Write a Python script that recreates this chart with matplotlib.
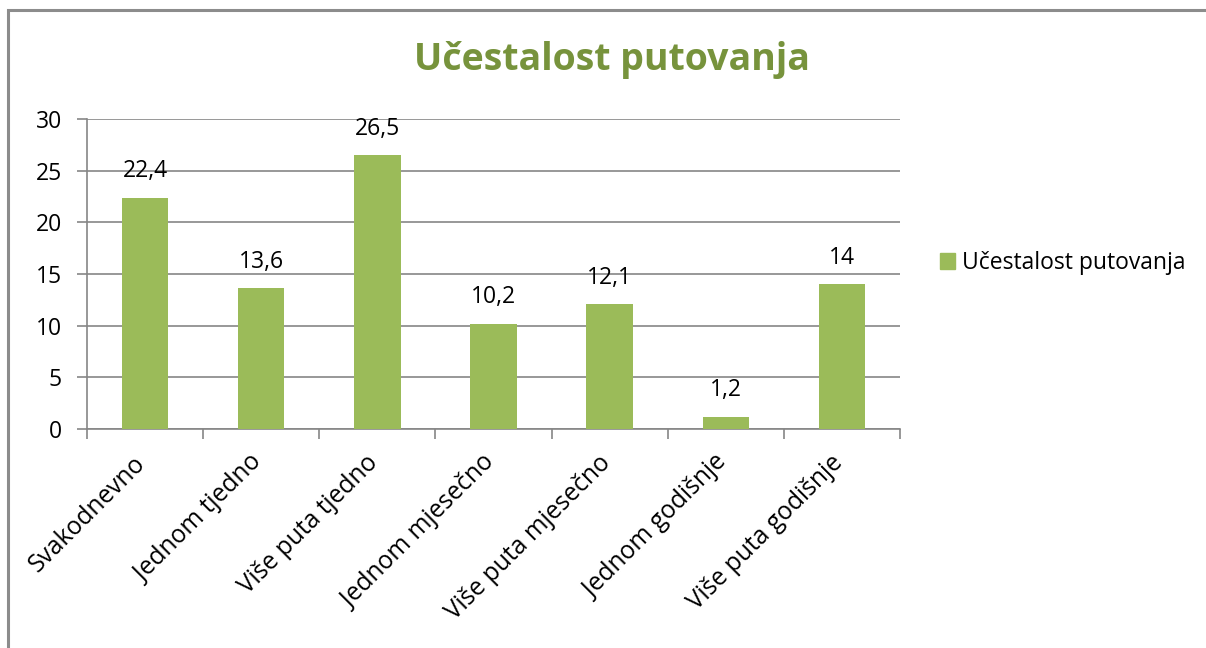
import matplotlib
matplotlib.use("Agg")
import matplotlib.pyplot as plt
from matplotlib.patches import Rectangle, Patch
import matplotlib.transforms as mtransforms
import numpy as np

categories = ["Svakodnevno", "Jednom tjedno", "Više puta tjedno", "Jednom mjesečno",
              "Više puta mjesečno", "Jednom godišnje", "Više puta godišnje"]
values = [22.4, 13.6, 26.5, 10.2, 12.1, 1.2, 14]
value_labels = ["22,4", "13,6", "26,5", "10,2", "12,1", "1,2", "14"]
yticks = [0, 5, 10, 15, 20, 25, 30]
series_name = "Učestalost putovanja"
title = "Učestalost putovanja"

bar_color = "#9BBB59"
title_color = "#77933C"
grid_color = "#868686"

plt.rcParams['font.family'] = ['Open Sans', 'DejaVu Sans']
FS = 16.5

fig = plt.figure(figsize=(12.06, 6.48), dpi=100)
# outer border
fig.add_artist(Rectangle((8/1206, -0.1), 1.2, 1 - 10/648 + 0.1, transform=fig.transFigure,
                         fill=False, edgecolor="#8C8C8C", linewidth=2.2))

ax = fig.add_axes([87/1206, 1 - 429/648, (900 - 87)/1206, (429 - 119)/648])
x = np.arange(len(categories))
bars = ax.bar(x, values, width=0.4, color=bar_color, zorder=3, label=series_name)

ax.set_xlim(-0.5, len(categories) - 0.5)
ax.set_ylim(0, 30)
ax.set_yticks(yticks)
ax.set_yticklabels([str(t) for t in yticks], fontsize=FS)
ax.yaxis.grid(True, color=grid_color, linewidth=1.2, zorder=0)
ax.tick_params(axis='y', length=7, width=1.2, color=grid_color, pad=11)

# x ticks at category boundaries
ax.set_xticks(np.arange(len(categories) + 1) - 0.5)
ax.set_xticklabels([])
ax.tick_params(axis='x', length=7, width=1.2, color=grid_color)
ax.set_xticks(x, minor=True)
ax.set_xticklabels(categories, minor=True, rotation=45, ha='right', va='center',
                   rotation_mode='anchor', fontsize=17.7)
ax.tick_params(axis='x', which='minor', length=0, pad=22)
shift = mtransforms.ScaledTranslation(-3/100, 0, fig.dpi_scale_trans)
for lbl in ax.get_xticklabels(minor=True):
    lbl.set_transform(lbl.get_transform() + shift)

for s in ['top', 'right']:
    ax.spines[s].set_visible(False)
for s in ['left', 'bottom']:
    ax.spines[s].set_color(grid_color)
    ax.spines[s].set_linewidth(1.2)

for xi, v, lab in zip(x, values, value_labels):
    ax.annotate(lab, (xi, v), xytext=(0, 19), textcoords='offset points',
                ha='center', va='center', fontsize=FS)

fig.text(612/1206, 1 - 60/648, title, ha='center', va='center', fontsize=27,
         fontweight='bold', color=title_color)

leg = fig.legend(handles=[Patch(color=bar_color, label=series_name)],
                 loc='center left', bbox_to_anchor=(940/1206, 1 - 263/648),
                 frameon=False, fontsize=FS, handlelength=0.65, handleheight=0.65,
                 handletextpad=0.3, borderaxespad=0, borderpad=0)

fig.savefig("out.png", dpi=100)
